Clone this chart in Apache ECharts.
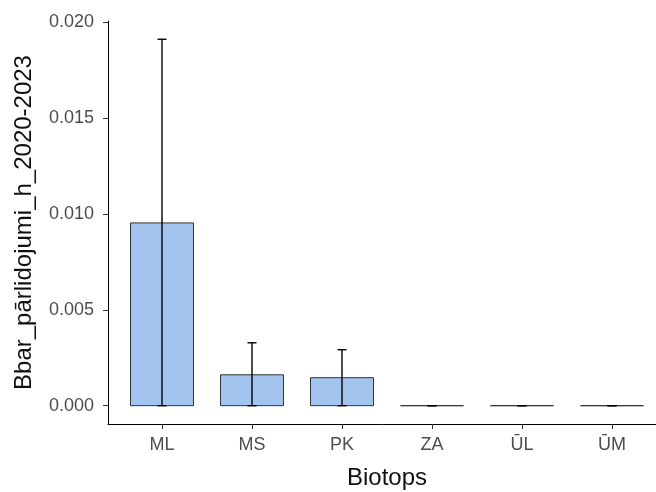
<!DOCTYPE html>
<html>
<head>
<meta charset="utf-8">
<script src="https://cdn.jsdelivr.net/npm/echarts@6/dist/echarts.min.js"></script>
<style>
  html, body { margin: 0; padding: 0; background: #fff; }
  #chart { width: 656px; height: 492px; }
</style>
</head>
<body>
<div id="chart"></div>
<script>
// dati no attēla
var categories = ['ML', 'MS', 'PK', 'ZA', 'ŪL', 'ŪM'];
var means = [0.00953, 0.00161, 0.00146, 0, 0, 0];
var errLow = [0, 0, 0, 0, 0, 0];
var errHigh = [0.01911, 0.00328, 0.00292, 0, 0, 0];
var yTicks = [0, 0.005, 0.01, 0.015, 0.02];
var xTicks = [0, 1, 2, 3, 4, 5];

var font = '"Liberation Sans", Arial, sans-serif';

var barData = [];
var errData = [];
for (var i = 0; i < categories.length; i++) {
    barData.push([i, means[i]]);
    errData.push([i, errLow[i], errHigh[i]]);
}

var chart = echarts.init(document.getElementById('chart'));
var option = {
    animation: false,
    backgroundColor: '#fff',
    grid: {
        left: 108,
        top: 21,
        width: 558,
        height: 403,
        outerBoundsMode: 'none'
    },
    xAxis: {
        type: 'value',
        min: -0.6,
        max: 5.6,
        name: 'Biotops',
        nameLocation: 'middle',
        nameGap: 42,
        nameTextStyle: { color: '#111', fontSize: 24, fontFamily: font },
        splitLine: { show: false },
        axisLine: { show: true, onZero: false, lineStyle: { color: '#000', width: 1 } },
        axisTick: { show: true, length: 5, customValues: xTicks, lineStyle: { color: '#333' } },
        axisLabel: {
            customValues: xTicks,
            margin: 12,
            color: '#4d4d4d',
            fontSize: 18,
            fontFamily: font,
            formatter: function(v) { return categories[Math.round(v)]; }
        }
    },
    yAxis: {
        type: 'value',
        min: -0.000955,
        max: 0.02006,
        name: 'Bbar_pārlidojumi_h_2020-2023',
        nameLocation: 'middle',
        nameGap: 72,
        nameTextStyle: { color: '#111', fontSize: 24, fontFamily: font },
        splitLine: { show: false },
        axisLine: { show: true, onZero: false, lineStyle: { color: '#000', width: 1 } },
        axisTick: { show: true, length: 5, customValues: yTicks, lineStyle: { color: '#333' } },
        axisLabel: {
            customValues: yTicks,
            margin: 14,
            color: '#4d4d4d',
            fontSize: 18,
            fontFamily: font,
            formatter: function(v) { return v.toFixed(3); }
        }
    },
    series: [{
            type: 'custom',
            data: barData,
            renderItem: function(params, api) {
                var x = api.value(0);
                var y = api.value(1);
                var p1 = api.coord([x - 0.35, y]);
                var p2 = api.coord([x + 0.35, 0]);
                return {
                    type: 'rect',
                    shape: { x: p1[0], y: p1[1], width: p2[0] - p1[0], height: p2[1] - p1[1] },
                    style: { fill: '#a4c4f0', stroke: '#333', lineWidth: 1 }
                };
            }
        },
        {
            type: 'custom',
            data: errData,
            z: 3,
            renderItem: function(params, api) {
                var x = api.value(0);
                var lo = api.coord([x, api.value(1)]);
                var hi = api.coord([x, api.value(2)]);
                var cl = api.coord([x - 0.05, 0])[0];
                var cr = api.coord([x + 0.05, 0])[0];
                var st = { stroke: '#000', lineWidth: 1.4 };
                return {
                    type: 'group',
                    children: [
                        { type: 'line', shape: { x1: lo[0], y1: lo[1], x2: hi[0], y2: hi[1] }, style: st },
                        { type: 'line', shape: { x1: cl, y1: hi[1], x2: cr, y2: hi[1] }, style: st },
                        { type: 'line', shape: { x1: cl, y1: lo[1], x2: cr, y2: lo[1] }, style: st }
                    ]
                };
            }
        }
    ]
};
chart.setOption(option);
</script>
</body>
</html>
